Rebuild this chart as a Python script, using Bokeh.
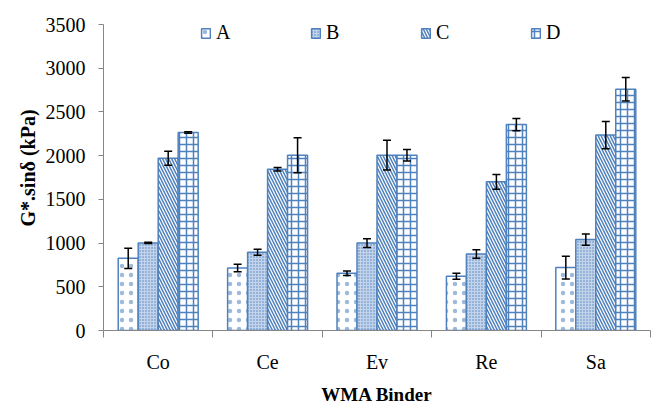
from bokeh.plotting import figure
from bokeh.models import (ColumnDataSource, Range1d, FixedTicker, Whisker, TeeHead,
                          Legend, LegendItem)
from bokeh.embed import file_html
from bokeh.resources import INLINE

categories = ["Co", "Ce", "Ev", "Re", "Sa"]
series_names = ["A", "B", "C", "D"]
A = [825, 715, 655, 620, 720]
A_err = [115, 43, 25, 35, 130]
B = [1002, 895, 1000, 875, 1040]
B_err = [8, 35, 50, 50, 65]
C = [1970, 1845, 2005, 1700, 2235]
C_err = [80, 20, 170, 85, 155]
D = [2265, 2005, 2005, 2355, 2760]
D_err = [8, 200, 65, 70, 135]
y_ticks = [0, 500, 1000, 1500, 2000, 2500, 3000, 3500]
y_max = 3500

values = [A, B, C, D]
errors = [A_err, B_err, C_err, D_err]

BLUE = "#4F81BD"
SERIF = "Liberation Serif"

# frame spans 5..330 px; axis (0..3500) spans 24..330 px
frame_top, axis_top, frame_bottom = 5, 24, 330
y_end = y_max * (frame_bottom - frame_top) / (frame_bottom - axis_top)

p = figure(width=659, height=408, output_backend="svg", toolbar_location=None,
           x_range=Range1d(0.5, 5.5), y_range=Range1d(0, y_end),
           min_border_left=103, min_border_right=9, min_border_top=frame_top,
           min_border_bottom=408 - frame_bottom)
p.outline_line_color = None
p.xgrid.visible = False
p.ygrid.visible = False
p.background_fill_color = "white"
p.border_fill_color = "white"

bar_w = 0.183
offsets = [-0.274, -0.0914, 0.0914, 0.274]
styles = [
    dict(fill_color="white", hatch_pattern="dot", hatch_scale=9, hatch_weight=0.4,
         hatch_alpha=0.55),
    dict(fill_color="#C3D3EA", hatch_pattern="dot", hatch_scale=3, hatch_weight=0.8),
    dict(fill_color="white", hatch_pattern="left_diagonal_line", hatch_scale=6,
         hatch_weight=1.5),
    dict(fill_color="white", hatch_pattern="cross", hatch_scale=7, hatch_weight=1.5),
]

renderers = []
for name, vals, errs, off, st in zip(series_names, values, errors, offsets, styles):
    xs = [i + 1 + off for i in range(len(categories))]
    src = ColumnDataSource(dict(x=xs, top=vals,
                                upper=[v + e for v, e in zip(vals, errs)],
                                lower=[v - e for v, e in zip(vals, errs)]))
    r = p.vbar(x="x", top="top", bottom=0, width=bar_w, source=src,
               line_color=BLUE, line_width=1.5, hatch_color=BLUE, **st)
    renderers.append((name, r))
    w = Whisker(base="x", upper="upper", lower="lower", source=src,
                line_color="black", line_width=1.5, level="annotation",
                upper_head=TeeHead(size=8, line_color="black", line_width=1.5),
                lower_head=TeeHead(size=8, line_color="black", line_width=1.5))
    p.add_layout(w)

# axes
xa = p.xaxis[0]
xa.ticker = FixedTicker(ticks=[i + 1 for i in range(len(categories))],
                        minor_ticks=[i + 0.5 for i in range(len(categories) + 1)])
xa.major_label_overrides = {i + 1: c for i, c in enumerate(categories)}
xa.major_tick_out = 0
xa.major_tick_in = 0
xa.minor_tick_out = 7
xa.minor_tick_in = 0
xa.minor_tick_line_color = "#868686"
xa.axis_line_color = "#868686"
xa.major_label_standoff = 13
xa.major_label_text_font = SERIF
xa.major_label_text_font_size = "20px"
xa.major_label_text_color = "black"
xa.axis_label = "WMA Binder"
xa.axis_label_text_font = SERIF
xa.axis_label_text_font_style = "bold"
xa.axis_label_text_font_size = "19px"
xa.axis_label_text_color = "black"
xa.axis_label_standoff = 8

ya = p.yaxis[0]
ya.ticker = FixedTicker(ticks=y_ticks)
ya.bounds = (0, y_max)
ya.minor_tick_out = 0
ya.minor_tick_in = 0
ya.major_tick_out = 5
ya.major_tick_in = 0
ya.major_tick_line_color = "#868686"
ya.axis_line_color = "#868686"
ya.major_label_standoff = 13
ya.major_label_text_font = SERIF
ya.major_label_text_font_size = "20px"
ya.major_label_text_color = "black"
ya.axis_label = "G*.sinδ (kPa)"
ya.axis_label_text_font = SERIF
ya.axis_label_text_font_style = "bold"
ya.axis_label_text_font_size = "20px"
ya.axis_label_text_color = "black"
ya.axis_label_standoff = 4

legend = Legend(items=[LegendItem(label=n, renderers=[r]) for n, r in renderers],
                orientation="horizontal", location=(97, 286),
                glyph_width=11, glyph_height=12, label_standoff=5,
                label_width=20, spacing=74, padding=0, margin=0,
                border_line_color=None, background_fill_alpha=0,
                label_text_font=SERIF, label_text_font_size="20px",
                label_text_color="black")
p.add_layout(legend)

open("out.html", "w").write(file_html(p, INLINE))
